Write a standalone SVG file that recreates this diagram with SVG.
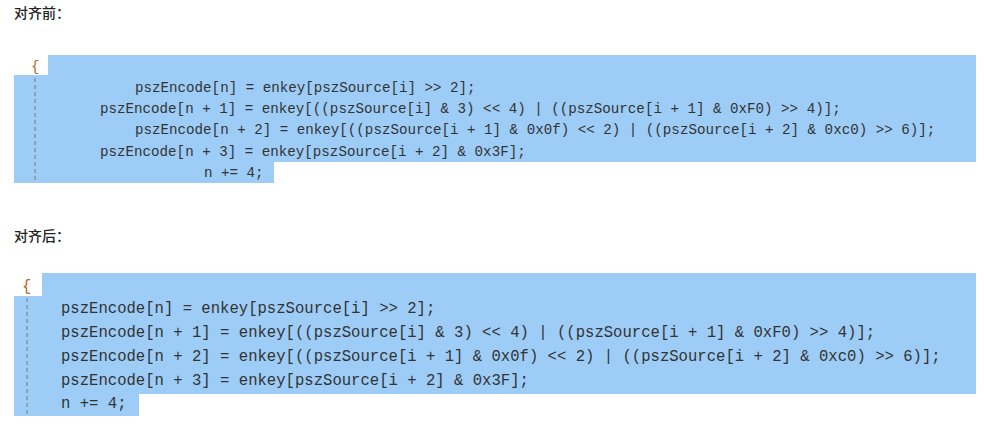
<svg xmlns="http://www.w3.org/2000/svg" width="984" height="441" viewBox="0 0 984 441">
<style>
.h{font-family:"Noto Sans CJK SC",sans-serif;font-size:14px;fill:#222;font-weight:500}
.sel{fill:#9dcdf7}
.c1{font-family:"Liberation Mono",monospace;font-size:14.2px;fill:#333;white-space:pre}
.c2{font-family:"Liberation Mono",monospace;font-size:15.6px;fill:#333;white-space:pre}
.g{stroke:#777;stroke-width:1;stroke-dasharray:4 3}
.br{fill:#b5651d;font-family:"Liberation Mono",monospace}
</style>
<rect width="984" height="441" fill="#fff"/>
<g id="before">
<text class="h" x="14" y="18">对齐前：</text>
<rect class="sel" x="48" y="55" width="928" height="21"/>
<rect class="sel" x="14" y="75" width="962" height="87"/>
<rect class="sel" x="14" y="161" width="260" height="22"/>
<text class="br" x="31" y="71" font-size="14.2">{</text>
<line class="g" x1="35" y1="78" x2="35" y2="183"/>
<text class="c1" x="135" y="92">pszEncode[n] = enkey[pszSource[i] &gt;&gt; 2];</text>
<text class="c1" x="100" y="113">pszEncode[n + 1] = enkey[((pszSource[i] &amp; 3) &lt;&lt; 4) | ((pszSource[i + 1] &amp; 0xF0) &gt;&gt; 4)];</text>
<text class="c1" x="135" y="134">pszEncode[n + 2] = enkey[((pszSource[i + 1] &amp; 0x0f) &lt;&lt; 2) | ((pszSource[i + 2] &amp; 0xc0) &gt;&gt; 6)];</text>
<text class="c1" x="100" y="156">pszEncode[n + 3] = enkey[pszSource[i + 2] &amp; 0x3F];</text>
<text class="c1" x="204" y="177">n += 4;</text>
</g>
<g id="after">
<text class="h" x="14" y="241">对齐后：</text>
<rect class="sel" x="42" y="273" width="934" height="24"/>
<rect class="sel" x="14" y="296" width="962" height="98"/>
<rect class="sel" x="14" y="393" width="125" height="23"/>
<text class="br" x="22" y="291" font-size="15.6">{</text>
<line class="g" x1="27" y1="298" x2="27" y2="416"/>
<text class="c2" x="61" y="313">pszEncode[n] = enkey[pszSource[i] &gt;&gt; 2];</text>
<text class="c2" x="61" y="337">pszEncode[n + 1] = enkey[((pszSource[i] &amp; 3) &lt;&lt; 4) | ((pszSource[i + 1] &amp; 0xF0) &gt;&gt; 4)];</text>
<text class="c2" x="61" y="361">pszEncode[n + 2] = enkey[((pszSource[i + 1] &amp; 0x0f) &lt;&lt; 2) | ((pszSource[i + 2] &amp; 0xc0) &gt;&gt; 6)];</text>
<text class="c2" x="61" y="385">pszEncode[n + 3] = enkey[pszSource[i + 2] &amp; 0x3F];</text>
<text class="c2" x="61" y="408">n += 4;</text>
</g>
</svg>
